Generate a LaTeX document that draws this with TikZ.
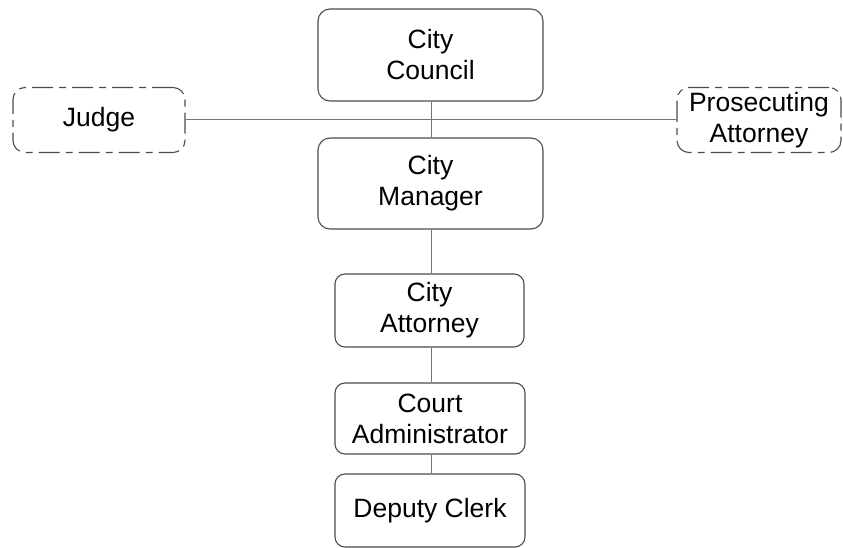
\documentclass[tikz,border=0pt]{standalone}
\usepackage{fontspec}
\setmainfont{Liberation Sans}
\begin{document}
\begin{tikzpicture}[x=1pt,y=-1pt,
  every node/.style={font=\fontsize{26.5}{31}\selectfont, align=center, inner sep=0pt},
  box/.style={draw=black!70, line width=1.1pt, rounded corners=12pt, fill=white},
  extbox/.style={box, dash pattern=on 21pt off 6pt on 7pt off 6pt},
  link/.style={draw=black!55, line width=1pt}]
  \useasboundingbox (0,0) rectangle (843,548);

  % vertical chain of offices
  \node[box, minimum width=225pt, minimum height=92pt] (council) at (430.5,55) {City\\Council};
  \node[box, minimum width=225pt, minimum height=91pt] (manager) at (430.5,183.5) {City\\Manager};
  \node[box, rounded corners=10pt, minimum width=189pt, minimum height=73pt] (attorney) at (429.5,310.5) {City\\Attorney};
  \node[box, rounded corners=10pt, minimum width=190pt, minimum height=71pt] (admin) at (430,418.5) {Court\\Administrator};
  \node[box, rounded corners=10pt, minimum width=190pt, minimum height=73pt] (clerk) at (430,510.5) {Deputy Clerk};

  % side offices
  \node[extbox, minimum width=172pt, minimum height=65pt] (judge) at (99,120) {Judge};
  \node[extbox, minimum width=164pt, minimum height=65pt] (prosecutor) at (759,120) {Prosecuting\\Attorney};

  % connectors
  \draw[link] (judge.east) -- (prosecutor.west);
  \draw[link] (council.south -| 431,0) -- (manager.north -| 431,0);
  \draw[link] (manager.south -| 431,0) -- (attorney.north -| 431,0);
  \draw[link] (attorney.south -| 431,0) -- (admin.north -| 431,0);
  \draw[link] (admin.south -| 431,0) -- (clerk.north -| 431,0);
\end{tikzpicture}
\end{document}
